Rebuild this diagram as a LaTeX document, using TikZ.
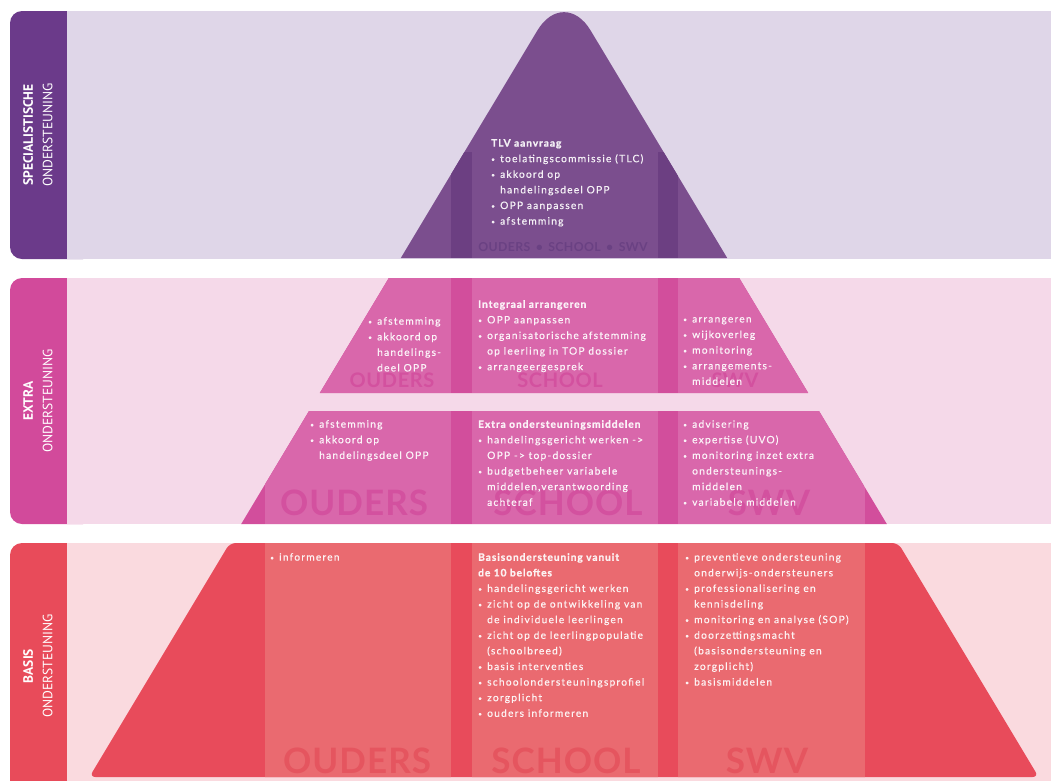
\documentclass[tikz,border=0pt]{standalone}
\usepackage{fontspec}
\setmainfont{Lato}[LetterSpace=12, FakeBold=0.45]
\newfontfamily\hdfont{Lato}[LetterSpace=9, BoldFeatures={FakeBold=1.2}]
\newfontfamily\tabfont{PT Sans}
\newfontfamily\bigfont{Lato}[LetterSpace=3]
\definecolor{specband}{HTML}{DFD6E8}
\definecolor{spectab}{HTML}{6B3A8A}
\definecolor{toptri}{HTML}{7B4E8E}
\definecolor{topstripe}{HTML}{6C3F82}
\definecolor{toplbl}{HTML}{6A4183}
\definecolor{extraband}{HTML}{F5D9E9}
\definecolor{extratab}{HTML}{D24A9B}
\definecolor{extrabase}{HTML}{D24E9C}
\definecolor{extracol}{HTML}{D967AB}
\definecolor{extralbl}{HTML}{D3519F}
\definecolor{basisband}{HTML}{FADADF}
\definecolor{basistab}{HTML}{E84B5A}
\definecolor{basisbase}{HTML}{E84B5B}
\definecolor{basiscol}{HTML}{EA6A70}
\definecolor{basislbl}{HTML}{E5555F}
\newcommand{\bul}{\makebox[9pt][l]{\raisebox{0.6pt}{\fontsize{6.5}{6.5}\selectfont\textbullet}}}
\newcommand{\myind}{\hspace*{9pt}}
\newcommand{\hd}[1]{{\hdfont\bfseries #1}}
\begin{document}
\begin{tikzpicture}[x=1pt,y=-1pt,
  txt/.style={anchor=north west, inner sep=0pt, align=left, text=white, text opacity=0.9,
    font=\fontsize{10.2}{15.6}\selectfont},
  biglbl/.style={inner sep=0pt, anchor=base, font=\bigfont\bfseries\fontsize{35}{35}\selectfont},
  midlbl/.style={inner sep=0pt, anchor=base, font=\bigfont\bfseries\fontsize{20}{20}\selectfont},
  tablbl/.style={rotate=90, align=center, text=white, inner sep=0pt,
    font=\tabfont\fontsize{13.5}{19.5}\selectfont}]

\useasboundingbox (0,0) rectangle (1051,780);
\fill[white] (0,0) rectangle (1051,780);

% ---------- bands and tabs ----------
\fill[spectab, rounded corners=12pt] (10,11) rectangle (95,259);
\fill[specband] (67,11) rectangle (1051,259);
\fill[extratab, rounded corners=12pt] (10,278) rectangle (95,524);
\fill[extraband] (67,278) rectangle (1051,524);
\fill[basistab, rounded corners=12pt] (10,543) rectangle (95,820);
\fill[basisband] (67,543) rectangle (1051,820);

\node[tablbl] (tspec) at (38,135) {\textbf{SPECIALISTISCHE}\\ONDERSTEUNING};
\node[tablbl] (textra) at (38,401) {\textbf{EXTRA}\\ONDERSTEUNING};
\node[tablbl] (tbasis) at (38,666) {\textbf{BASIS}\\ONDERSTEUNING};

% ---------- top triangle ----------
\fill[toptri] (400.8,258) -- (537.3,30.6) .. controls (552,6) and (576,6) .. (590.7,30.6) -- (727.2,258) -- cycle;
\begin{scope}
  \clip (400.8,258) -- (537.3,30.6) .. controls (552,6) and (576,6) .. (590.7,30.6) -- (727.2,258) -- cycle;
  \fill[topstripe] (451,152) rectangle (471.5,258);
  \fill[topstripe] (658,152) rectangle (678,258);
\end{scope}
\node[inner sep=0pt, anchor=base, text=toplbl, font=\bigfont\bfseries\fontsize{12.3}{12.3}\selectfont] (toplabel) at (563,251) {OUDERS \,\textbullet\, SCHOOL \,\textbullet\, SWV};

% ---------- extra tiers ----------
\fill[extrabase] (388.8,278) -- (739.2,278) -- (808.2,393) -- (319.8,393) -- cycle;
\begin{scope}
  \clip (388.8,278) -- (739.2,278) -- (808.2,393) -- (319.8,393) -- cycle;
  \fill[extracol] (265,278) rectangle (451,393);
  \fill[extracol] (472,278) rectangle (658,393);
  \fill[extracol] (678,278) rectangle (865,393);
\end{scope}
\fill[extrabase] (309,411) -- (819,411) -- (886.8,524) -- (241.2,524) -- cycle;
\begin{scope}
  \clip (309,411) -- (819,411) -- (886.8,524) -- (241.2,524) -- cycle;
  \fill[extracol] (265,411) rectangle (451,524);
  \fill[extracol] (472,411) rectangle (658,524);
  \fill[extracol] (678,411) rectangle (865,524);
\end{scope}
\node[midlbl, text=extralbl] (eo1) at (392,387) {OUDERS};
\node[midlbl, text=extralbl] (es1) at (560,387) {SCHOOL};
\node[midlbl, text=extralbl] (ew1) at (735,387) {SWV};
\node[biglbl, text=extralbl] (eo2) at (354,515) {OUDERS};
\node[biglbl, text=extralbl] (es2) at (568,515) {SCHOOL};
\node[biglbl, text=extralbl] (ew2) at (769,515) {SWV};

% ---------- basis tier ----------
\fill[basisbase, rounded corners=6pt] (229.8,543) -- (898.2,543) -- (1038.6,777) -- (89.4,777) -- cycle;
\begin{scope}
  \clip (229.8,543) -- (898.2,543) -- (1038.6,777) -- (89.4,777) -- cycle;
  \fill[basiscol] (265,543) rectangle (451,780);
  \fill[basiscol] (472,543) rectangle (658,780);
  \fill[basiscol] (678,543) rectangle (865,780);
\end{scope}
\node[biglbl, text=basislbl] (bo) at (357,773) {OUDERS};
\node[biglbl, text=basislbl] (bs) at (566,773) {SCHOOL};
\node[biglbl, text=basislbl] (bw) at (767,773) {SWV};

% ---------- texts ----------
\node[txt] (tlv) at (491,139) {\hd{TLV aanvraag}\\
  \bul toelatingscommissie (TLC)\\
  \bul akkoord op\\
  \myind handelingsdeel OPP\\
  \bul OPP aanpassen\\
  \bul afstemming};

\node[txt] (e1o) at (368,317) {\bul afstemming\\
  \bul akkoord op\\
  \myind handelings-\\
  \myind deel OPP};
\node[txt] (e1s) at (478,300) {\hd{Integraal arrangeren}\\
  \bul OPP aanpassen\\
  \bul organisatorische afstemming\\
  \myind op leerling in TOP dossier\\
  \bul arrangeergesprek};
\node[txt] (e1w) at (683,317) {\bul arrangeren\\
  \bul wijkoverleg\\
  \bul monitoring\\
  \bul arrangements-\\
  \myind middelen};

\node[txt] (e2o) at (310,420) {\bul afstemming\\
  \bul akkoord op\\
  \myind handelingsdeel OPP};
\node[txt] (e2s) at (478,420) {\hd{Extra ondersteuningsmiddelen}\\
  \bul handelingsgericht werken ->\\
  \myind OPP -> top-dossier\\
  \bul budgetbeheer variabele\\
  \myind middelen,verantwoording\\
  \myind achteraf};
\node[txt] (e2w) at (683,420) {\bul advisering\\
  \bul expertise (UVO)\\
  \bul monitoring inzet extra\\
  \myind ondersteunings-\\
  \myind middelen\\
  \bul variabele middelen};

\node[txt] (bot) at (270,553) {\bul informeren};
\node[txt] (bst) at (478,553) {\hd{Basisondersteuning vanuit}\\
  \hd{de 10 beloftes}\\
  \bul handelingsgericht werken\\
  \bul zicht op de ontwikkeling van\\
  \myind de individuele leerlingen\\
  \bul zicht op de leerlingpopulatie\\
  \myind (schoolbreed)\\
  \bul basis interventies\\
  \bul schoolondersteuningsprofiel\\
  \bul zorgplicht\\
  \bul ouders informeren};
\node[txt] (bwt) at (685,553) {\bul preventieve ondersteuning\\
  \myind onderwijs-ondersteuners\\
  \bul professionalisering en\\
  \myind kennisdeling\\
  \bul monitoring en analyse (SOP)\\
  \bul doorzettingsmacht\\
  \myind (basisondersteuning en\\
  \myind zorgplicht)\\
  \bul basismiddelen};
\end{tikzpicture}
\end{document}
